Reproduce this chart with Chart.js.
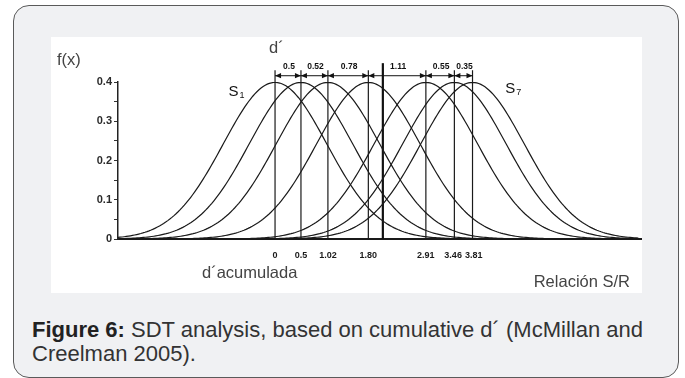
<!DOCTYPE html>
<html>
<head>
<meta charset="utf-8">
<script src="https://cdn.jsdelivr.net/npm/chart.js@4.4.1/dist/chart.umd.min.js"></script>
<style>
  html, body { margin: 0; padding: 0; width: 685px; height: 378px; background: #fff; overflow: hidden;
    font-family: "Liberation Sans", Arial, sans-serif; }
  #card { position: absolute; left: 13px; top: 5px; width: 666px; height: 373px; box-sizing: border-box;
    border: 1.5px solid #5a5a5a; border-radius: 16px; background: #f0f1f3; }
  #panel { position: absolute; left: 51px; top: 37px; width: 591px; height: 256px; background: #fff; }
  #caption { position: absolute; left: 32px; top: 318px; font-size: 22px; line-height: 24px; color: #333;
    white-space: nowrap; }
  #caption b { color: #222; }
</style>
</head>
<body>
<div id="card"></div>
<div id="panel"><canvas id="chart" width="591" height="256"></canvas></div>
<div id="caption"><b>Figure 6:</b> SDT analysis, based on cumulative d´ (McMillan and<br>Creelman 2005).</div>
<script>
// Cumulative d' (distribution means along the S/R axis) and their printed labels
const cumulativeD = [0, 0.5, 1.02, 1.80, 2.91, 3.46, 3.81];
const cumulativeLabels = ['0', '0.5', '1.02', '1.80', '2.91', '3.46', '3.81'];
// Successive d' steps between neighbouring distributions
const stepLabels = ['0.5', '0.52', '0.78', '1.11', '0.55', '0.35'];
// Decision criterion marker (thick line)
const criterion = 2.08;
// f(x) axis ticks
const yTickValues = [0, 0.1, 0.2, 0.3, 0.4];

const X_MIN = -3.03, X_MAX = 7.08;

// Each stimulus distribution is a unit-variance normal centred on its cumulative d'
function normalCurve(mu) {
  const pts = [];
  const lo = Math.max(X_MIN, mu - 3.4), hi = Math.min(X_MAX - 0.05, mu + 3.4);
  for (let v = lo; v <= hi + 1e-9; v += 0.04) {
    const z = v - mu;
    pts.push({ x: v, y: Math.exp(-0.5 * z * z) / Math.sqrt(2 * Math.PI) });
  }
  return pts;
}

const curveSets = cumulativeD.map(mu => ({
  data: normalCurve(mu), borderColor: '#1a1a1a', borderWidth: 1.2,
  pointRadius: 0, tension: 0, fill: false
}));

const markerSets = cumulativeD.map(mu => ({
  data: [{ x: mu, y: 0 }, { x: mu, y: 0.43 }], borderColor: '#1a1a1a', borderWidth: 1.2,
  pointRadius: 0, clip: false
}));

const criterionSet = {
  data: [{ x: criterion, y: 0 }, { x: criterion, y: 0.448 }], borderColor: '#111', borderWidth: 2.2,
  pointRadius: 0, clip: false
};

function arrowHead(ctx, tipX, y, dir) {
  ctx.beginPath();
  ctx.moveTo(tipX, y);
  ctx.lineTo(tipX - dir * 6, y - 2.6);
  ctx.lineTo(tipX - dir * 6, y + 2.6);
  ctx.closePath();
  ctx.fill();
}

const annotations = {
  id: 'dprimeAnnotations',
  afterDatasetsDraw(chart) {
    const { ctx, scales: { x, y } } = chart;
    ctx.save();
    ctx.fillStyle = '#111';
    ctx.strokeStyle = '#111';
    ctx.lineWidth = 1;
    const ay = y.getPixelForValue(0.416);
    const ly = y.getPixelForValue(0.438);
    ctx.font = 'bold 8.5px "Liberation Sans", Arial, sans-serif';
    ctx.textAlign = 'center';
    ctx.textBaseline = 'middle';
    for (let i = 0; i < stepLabels.length; i++) {
      const x0 = x.getPixelForValue(cumulativeD[i]);
      const x1 = x.getPixelForValue(cumulativeD[i + 1]);
      ctx.beginPath();
      ctx.moveTo(x0, ay); ctx.lineTo(x1, ay); ctx.stroke();
      arrowHead(ctx, x0, ay, -1);
      arrowHead(ctx, x1, ay, 1);
      ctx.fillText(stepLabels[i], (x0 + x1) / 2 + 1, ly);
    }

    // Distribution labels S1 and S7
    ctx.font = '15px "Liberation Sans", Arial, sans-serif';
    ctx.textAlign = 'left';
    ctx.textBaseline = 'alphabetic';
    const s1x = x.getPixelForValue(-0.9), s1y = y.getPixelForValue(0.365);
    ctx.fillText('S', s1x, s1y);
    ctx.font = '9px "Liberation Sans", Arial, sans-serif';
    ctx.fillText('1', s1x + 11, s1y + 2);
    ctx.font = '15px "Liberation Sans", Arial, sans-serif';
    const s7x = x.getPixelForValue(4.44), s7y = y.getPixelForValue(0.372);
    ctx.fillText('S', s7x, s7y);
    ctx.font = '9px "Liberation Sans", Arial, sans-serif';
    ctx.fillText('7', s7x + 11, s7y + 2);

    // Axis captions
    ctx.fillStyle = '#444';
    ctx.font = '16.5px "Liberation Sans", Arial, sans-serif';
    ctx.textBaseline = 'middle';
    ctx.textAlign = 'left';
    ctx.fillText('f(x)', 6, 23);
    ctx.fillText('d´', x.getPixelForValue(0) - 6, 11);
    ctx.fillText('d´acumulada', 151, 236);
    ctx.textAlign = 'right';
    ctx.fillText('Relación S/R', 579, 245);
    ctx.restore();
  }
};

new Chart(document.getElementById('chart'), {
  type: 'line',
  data: { datasets: [...curveSets, ...markerSets, criterionSet] },
  options: {
    responsive: false,
    animation: false,
    events: [],
    layout: { padding: { top: 45, left: 0, right: 0, bottom: 0 } },
    plugins: { legend: { display: false }, tooltip: { enabled: false } },
    scales: {
      x: {
        type: 'linear', min: X_MIN, max: X_MAX,
        afterBuildTicks: s => { s.ticks = cumulativeD.map(v => ({ value: v })); },
        afterFit: s => { s.height = 54; },
        grid: { display: false },
        border: { display: true, color: '#1a1a1a', width: 2 },
        ticks: {
          autoSkip: false, maxRotation: 0, padding: 3, color: '#1a1a1a',
          font: { family: '"Liberation Sans", Arial, sans-serif', size: 9, weight: 'bold' },
          // the two closest labels are nudged apart with a space
          callback: (v, i) => i === 5 ? cumulativeLabels[i] + ' ' : (i === 6 ? ' ' + cumulativeLabels[i] : cumulativeLabels[i])
        }
      },
      y: {
        type: 'linear', min: 0, max: 0.4,
        afterBuildTicks: s => {
          const t = [];
          for (let k = 0; k <= 8; k++) t.push({ value: k * 0.05 });
          s.ticks = t;
        },
        afterFit: s => { s.width = 67; },
        grid: { drawOnChartArea: false, drawTicks: true, tickLength: 4, color: '#333' },
        border: { display: true, color: '#222', width: 1.5 },
        ticks: {
          autoSkip: false, padding: 2, color: '#2a2a2a',
          font: { family: '"Liberation Sans", Arial, sans-serif', size: 11, weight: 'bold' },
          callback: v => {
            const hit = yTickValues.find(t => Math.abs(t - v) < 1e-6);
            return hit === undefined ? '' : String(hit);
          }
        }
      }
    }
  },
  plugins: [annotations]
});
</script>
</body>
</html>
